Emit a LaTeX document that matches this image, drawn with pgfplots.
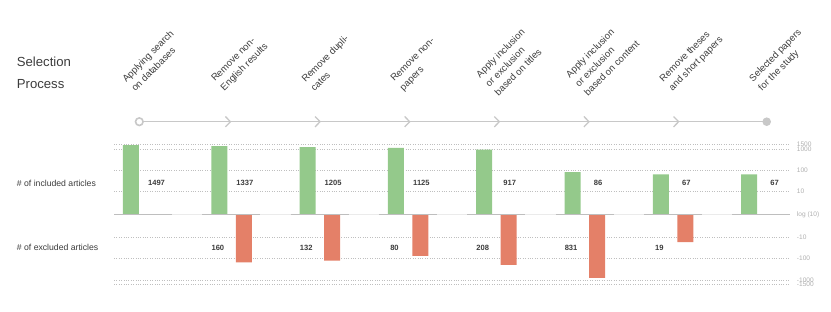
\documentclass[border=0pt]{standalone}
\usepackage{pgfplots}
\pgfplotsset{compat=1.18}
\usepackage{fontspec}
\setmainfont{Liberation Sans}
\definecolor{incl}{RGB}{148,201,139}
\definecolor{excl}{RGB}{228,128,104}
\definecolor{tl}{RGB}{200,200,200}
\definecolor{seg}{RGB}{190,190,190}
\definecolor{txt}{RGB}{60,60,60}
\definecolor{tick}{RGB}{175,175,175}
\begin{document}
\begin{tikzpicture}
\path[use as bounding box] (0,0) rectangle (831bp,-312bp);
\begin{axis}[
  at={(114bp,-290.6bp)}, anchor=south west,
  scale only axis, width=676bp, height=152.6bp,
  xmin=-0.1925, xmax=7.463, ymin=-3.5, ymax=3.5,
  axis line style={draw=none},
  xtick=\empty,
  ytick={-3.21,-3.01,-2.02,-1.05,1.04,2,3,3.21},
  yticklabels={-1500,-1000,-100,-10,10,100,1000,1500},
  extra y ticks={0}, extra y tick labels={log (10)},
  extra y tick style={grid style={solid, draw=black!8, line width=0.8bp}},
  yticklabel pos=right,
  ymajorgrids,
  grid style={dotted, draw=black!25, line width=0.45bp},
  major tick length=0pt,
  yticklabel style={font=\fontsize{6.6}{7}\selectfont, text=tick, anchor=west, inner sep=0pt, xshift=6.7bp},
  clip=false,
]
\addplot[ybar, bar width=16bp, bar shift=0bp, fill=incl, draw=none,
  y filter/.expression={ln(y)/ln(10)}]
  coordinates {(0,1497)(1,1337)(2,1205)(3,1125)(4,917)(5,86)(6,67)(7,67)};
\addplot[ybar, bar width=16bp, bar shift=24.5bp, fill=excl, draw=none,
  y filter/.expression={-ln(-y)/ln(10)}]
  coordinates {(1,-160)(2,-132)(3,-80)(4,-208)(5,-831)(6,-19)};
\draw[seg, line width=1.5bp] (axis cs:-0.1925,0) -- (axis cs:0.4643,0);
\draw[seg, line width=1.5bp] (axis cs:0.8075,0) -- (axis cs:1.4643,0);
\draw[seg, line width=1.5bp] (axis cs:1.8075,0) -- (axis cs:2.4643,0);
\draw[seg, line width=1.5bp] (axis cs:2.8075,0) -- (axis cs:3.4643,0);
\draw[seg, line width=1.5bp] (axis cs:3.8075,0) -- (axis cs:4.4643,0);
\draw[seg, line width=1.5bp] (axis cs:4.8075,0) -- (axis cs:5.4643,0);
\draw[seg, line width=1.5bp] (axis cs:5.8075,0) -- (axis cs:6.4643,0);
\draw[seg, line width=1.5bp] (axis cs:6.8075,0) -- (axis cs:7.4643,0);
\addplot[draw=none, mark=none, nodes near coords, point meta=explicit symbolic,
  every node near coord/.append style={anchor=center, inner sep=0pt, font=\bfseries\fontsize{7.6}{9}\selectfont, text=txt}]
  coordinates {(0.289,1.422)[1497] (1.289,1.422)[1337] (2.289,1.422)[1205] (3.289,1.422)[1125]
               (4.289,1.422)[917] (5.289,1.422)[86] (6.289,1.422)[67] (7.289,1.422)[67]};
\addplot[draw=none, mark=none, nodes near coords, point meta=explicit symbolic,
  every node near coord/.append style={anchor=center, inner sep=0pt, font=\bfseries\fontsize{7.6}{9}\selectfont, text=txt}]
  coordinates {(0.984,-1.532)[160] (1.984,-1.532)[132] (2.984,-1.532)[80]
               (3.984,-1.532)[208] (4.984,-1.532)[831] (5.984,-1.532)[19]};
\end{axis}
\begin{scope}[x=1bp, y=-1bp]
\node[anchor=base west, inner sep=0pt, text=txt, font=\fontsize{13.2}{15}\selectfont] at (16.7,66.7) {Selection};
\node[anchor=base west, inner sep=0pt, text=txt, font=\fontsize{13.2}{15}\selectfont] at (16.7,88.3) {Process};
\node[anchor=base west, inner sep=0pt, text=txt, font=\fontsize{8.7}{10}\selectfont] at (16.7,186.7) {\# of included articles};
\node[anchor=base west, inner sep=0pt, text=txt, font=\fontsize{8.7}{10}\selectfont] at (16.7,250.7) {\# of excluded articles};
\draw[tl, line width=1.5bp] (139.3,121.7) -- (766.7,121.7);
\draw[tl, line width=1.6bp, fill=white] (139.3,121.7) circle (3.8);
\fill[tl] (766.7,121.7) circle (4.3);
\foreach \x in {228.93,318.56,408.19,497.82,587.45,677.08}{
  \draw[tl, line width=1.3bp] (\x-3.5,116.5) -- (\x+1.5,121.7) -- (\x-3.5,126.9);
}
\foreach \x/\t in {139.3/{Applying search\\on databases},
                   228.93/{Remove non-\\English results},
                   318.56/{Remove dupli-\\cates},
                   408.19/{Remove non-\\papers},
                   497.82/{Apply inclusion\\or exclusion\\based on titles},
                   587.45/{Apply inclusion\\or exclusion\\based on content},
                   677.08/{Remove theses\\and short papers},
                   766.7/{Selected papers\\for the study}}{
  \node[rotate=45, anchor=west, align=left, inner sep=0pt, text=txt,
        font=\fontsize{9.6}{13}\selectfont] at (\x-11,85) {\t};
}
\end{scope}
\end{tikzpicture}
\end{document}
